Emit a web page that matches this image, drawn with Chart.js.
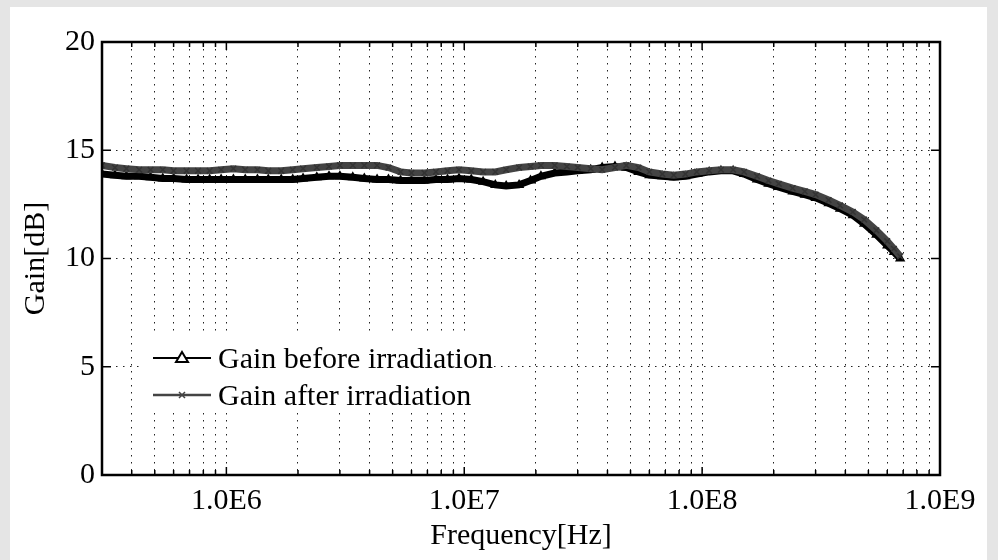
<!DOCTYPE html>
<html>
<head>
<meta charset="utf-8">
<script src="https://cdn.jsdelivr.net/npm/chart.js@4.4.1/dist/chart.umd.min.js"></script>
<style>
  html, body { margin: 0; padding: 0; background: #e5e5e5; }
  #wrap { position: relative; width: 998px; height: 560px; overflow: hidden; }
  #paper { position: absolute; left: 10px; top: 7px; width: 977px; height: 553px; background: #fff; }
  #chart { position: absolute; left: 0; top: 0; }
  #legend { position: absolute; left: 140px; top: 336px; width: 340px; height: 76px; background: #fff;
            font-family: 'Liberation Serif', 'Times New Roman', serif; font-size: 30px; color: #000; }
  .row { position: absolute; left: 13px; height: 36px; display: flex; align-items: center; white-space: nowrap; }
  .row svg { margin-right: 7px; }
</style>
</head>
<body>
<div id="wrap">
  <div id="paper"></div>
  <canvas id="chart" width="998" height="560"></canvas>
  <div id="legend">
    <div class="row" style="top:4px">
      <svg width="58" height="20"><line x1="0" y1="10" x2="58" y2="10" stroke="#000" stroke-width="2"/>
        <polygon points="29,4 35,14 23,14" fill="#fff" stroke="#000" stroke-width="2"/></svg>Gain before irradiation
    </div>
    <div class="row" style="top:41px">
      <svg width="58" height="20"><line x1="0" y1="10" x2="58" y2="10" stroke="#444" stroke-width="2.5"/>
        <path d="M26,7 L32,13 M32,7 L26,13" stroke="#444" stroke-width="1.5"/></svg>Gain after irradiation
    </div>
  </div>
</div>
<script>
// frequenze [Hz]
const freq = [
  3.0e5, 3.4e5, 3.8e5, 4.3e5, 4.8e5, 5.4e5, 6.0e5, 6.8e5, 7.6e5, 8.5e5, 9.5e5,
  1.07e6, 1.2e6, 1.35e6, 1.5e6, 1.7e6, 1.9e6, 2.1e6, 2.4e6, 2.7e6, 3.0e6, 3.4e6, 3.8e6, 4.3e6, 4.8e6, 5.4e6, 6.0e6, 6.8e6, 7.6e6, 8.5e6, 9.5e6,
  1.07e7, 1.2e7, 1.35e7, 1.5e7, 1.7e7, 1.9e7, 2.1e7, 2.4e7, 2.7e7, 3.0e7, 3.4e7, 3.8e7, 4.3e7, 4.8e7, 5.4e7, 6.0e7, 6.8e7, 7.6e7, 8.5e7, 9.5e7,
  1.07e8, 1.2e8, 1.35e8, 1.5e8, 1.7e8, 1.9e8, 2.1e8, 2.4e8, 2.7e8, 3.0e8, 3.4e8, 3.8e8, 4.3e8, 4.8e8, 5.4e8, 6.0e8, 6.4e8, 6.8e8
];

// guadagno prima dell'irraggiamento [dB]
const gainBefore = [
  13.9, 13.85, 13.8, 13.8, 13.75, 13.7, 13.7, 13.65, 13.65, 13.65, 13.65,
  13.65, 13.65, 13.65, 13.65, 13.65, 13.65, 13.7, 13.75, 13.8, 13.8, 13.75, 13.7, 13.65, 13.65, 13.6, 13.6, 13.6, 13.65, 13.65, 13.7,
  13.65, 13.55, 13.4, 13.35, 13.4, 13.6, 13.8, 13.95, 14.0, 14.05, 14.1, 14.2, 14.25, 14.2, 14.0, 13.85, 13.8, 13.75, 13.8, 13.9,
  14.0, 14.05, 14.05, 13.9, 13.65, 13.45, 13.3, 13.1, 12.95, 12.8, 12.55, 12.3, 12.0, 11.6, 11.1, 10.6, 10.3, 10.0
];

// guadagno dopo l'irraggiamento [dB]
const gainAfter = [
  14.3, 14.2, 14.15, 14.1, 14.1, 14.1, 14.05, 14.05, 14.05, 14.05, 14.1,
  14.15, 14.1, 14.1, 14.05, 14.05, 14.1, 14.15, 14.2, 14.25, 14.3, 14.3, 14.3, 14.3, 14.2, 14.0, 13.95, 13.95, 14.0, 14.05, 14.1,
  14.05, 14.0, 14.0, 14.1, 14.2, 14.25, 14.3, 14.3, 14.25, 14.2, 14.15, 14.1, 14.2, 14.3, 14.2, 14.0, 13.9, 13.85, 13.9, 14.0,
  14.05, 14.1, 14.1, 14.0, 13.8, 13.6, 13.45, 13.25, 13.1, 12.95, 12.7, 12.45, 12.15, 11.8, 11.3, 10.8, 10.45, 10.1
];

// etichette asse x (decadi)
const decadeTicks = [1e6, 1e7, 1e8, 1e9];
const decadeLabels = ['1.0E6', '1.0E7', '1.0E8', '1.0E9'];
const yTicks = [0, 5, 10, 15, 20];

const X_MIN = 3e5, X_MAX = 1e9;

// linee di griglia: 1..9 per ogni decade
const gridTicks = [];
[1e5, 1e6, 1e7, 1e8].forEach((d) => {
  for (let m = 1; m <= 9; m++) {
    const v = m * d;
    if (v >= X_MIN && v <= X_MAX) gridTicks.push(v);
  }
});
gridTicks.push(1e9);

const serif = "'Liberation Serif', 'Times New Roman', serif";

// cornice nera + tacche verso l'interno su tutti e quattro i lati
const framePlugin = {
  id: 'frame',
  afterDraw(chart) {
    const { ctx, chartArea: a, scales: { x, y } } = chart;
    ctx.save();
    ctx.strokeStyle = '#000';
    ctx.lineWidth = 1.5;
    ctx.beginPath();
    gridTicks.forEach((v) => {
      const px = x.getPixelForValue(v);
      const len = decadeTicks.includes(v) ? 8 : 5;
      ctx.moveTo(px, a.bottom); ctx.lineTo(px, a.bottom - len);
      ctx.moveTo(px, a.top); ctx.lineTo(px, a.top + len);
    });
    yTicks.forEach((v) => {
      const py = y.getPixelForValue(v);
      ctx.moveTo(a.left, py); ctx.lineTo(a.left + 9, py);
      ctx.moveTo(a.right, py); ctx.lineTo(a.right - 9, py);
    });
    ctx.stroke();
    ctx.lineWidth = 2.5;
    ctx.strokeRect(a.left, a.top, a.right - a.left, a.bottom - a.top);
    ctx.restore();
  }
};

new Chart(document.getElementById('chart'), {
  type: 'line',
  data: {
    datasets: [
      {
        label: 'Gain before irradiation',
        data: freq.map((f, i) => ({ x: f, y: gainBefore[i] })),
        borderColor: '#000',
        borderWidth: 7,
        pointStyle: 'triangle',
        pointRadius: 4.5,
        pointBackgroundColor: '#000',
        pointBorderColor: '#000',
        pointBorderWidth: 1.5,
        tension: 0,
        order: 1,
      },
      {
        label: 'Gain after irradiation',
        data: freq.map((f, i) => ({ x: f, y: gainAfter[i] })),
        borderColor: '#444',
        borderWidth: 7,
        pointStyle: 'crossRot',
        pointRadius: 4,
        pointBorderColor: '#333',
        pointBorderWidth: 1.5,
        tension: 0,
        order: 0,
      },
    ],
  },
  options: {
    responsive: false,
    animation: false,
    devicePixelRatio: 1,
    layout: { padding: { left: 0, top: 42, right: 58, bottom: 0 } },
    plugins: { legend: { display: false }, tooltip: { enabled: false } },
    scales: {
      x: {
        type: 'logarithmic',
        min: X_MIN,
        max: X_MAX,
        afterBuildTicks: (scale) => { scale.ticks = gridTicks.map((v) => ({ value: v })); },
        afterFit: (scale) => { scale.height = 85; },
        ticks: {
          autoSkip: false,
          maxRotation: 0,
          padding: 8,
          color: '#000',
          font: { family: serif, size: 30 },
          callback: (v) => {
            const i = decadeTicks.indexOf(v);
            return i >= 0 ? decadeLabels[i] : '';
          },
        },
        grid: { color: '#222', lineWidth: 1, drawTicks: false },
        border: { display: false, dash: [1.5, 5.5] },
        title: { display: true, text: 'Frequency[Hz]', color: '#000', font: { family: serif, size: 30 }, padding: { top: 0, bottom: 6 } },
      },
      y: {
        min: 0,
        max: 20,
        afterBuildTicks: (scale) => { scale.ticks = yTicks.map((v) => ({ value: v })); },
        afterFit: (scale) => { scale.width = 102; },
        ticks: { padding: 7, color: '#000', font: { family: serif, size: 30 } },
        grid: { color: '#222', lineWidth: 1, drawTicks: false },
        border: { display: false, dash: [1.5, 5.5] },
        title: { display: true, text: 'Gain[dB]', color: '#000', font: { family: serif, size: 30 }, padding: { top: 18, bottom: 0 } },
      },
    },
  },
  plugins: [framePlugin],
});
</script>
</body>
</html>
